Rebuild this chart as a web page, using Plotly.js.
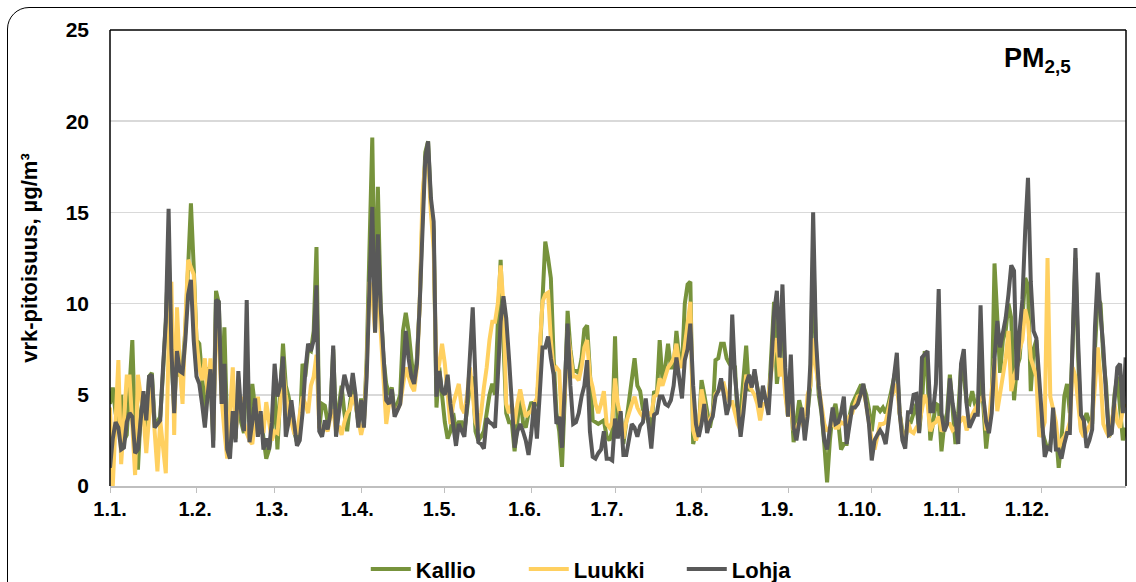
<!DOCTYPE html>
<html>
<head>
<meta charset="utf-8">
<script src="https://cdn.plot.ly/plotly-3.0.1.min.js"></script>
<style>
html,body{margin:0;padding:0;background:#fff;overflow:hidden;width:1136px;height:582px;}
#chart{position:absolute;left:0;top:0;width:1136px;height:582px;}
#frame{position:absolute;left:7px;top:7px;width:1160px;height:600px;border:1.5px solid #000;border-radius:22px;pointer-events:none;}
</style>
</head>
<body>
<div id="chart"></div>
<div id="frame"></div>
<script>
const kallio = [
4.5,5.4,4.0,3.2,5.0,2.5,2.8,5.5,8.0,3.0, 0.9,4.0,5.0,3.0,6.0,6.2,3.5,3.5,3.8,6.2, 9.0,13.0,7.2,4.2,7.5,6.0,6.5,8.5,12.5,15.5, 12.0,8.0,7.8,6.0,3.5,6.5,
6.0,2.5,10.7,10.0,5.0,8.7,3.0,2.0,4.0,2.6, 5.5,3.5,2.9,7.0,3.5,5.6,4.3,3.0,3.8,2.5, 1.5,2.0,3.0,5.5,2.0,5.0,7.8,5.5,4.9,4.0, 3.0,2.4,3.0,6.7,6.0,7.5,
7.4,8.5,13.1,3.2,4.5,4.4,3.5,4.0,7.5,3.2, 4.2,5.5,4.0,3.0,4.5,5.5,4.5,3.5,4.8,3.5, 7.0,13.0,19.1,9.2,16.4,10.0,7.0,5.6,5.0,5.4, 4.0,4.5,5.0,
8.5,9.5,8.5,7.0,5.5,7.0,10.0,15.0,18.3,18.9, 15.5,14.0,4.3,6.5,5.0,3.5,2.6,3.0,4.0,3.0, 3.5,3.5,3.0,4.5,5.5,6.0,3.0,2.5,2.7,3.0, 4.0,5.0,5.6,5.0,9.0,12.4,8.0,4.0,3.5,
3.5,1.9,3.5,5.1,3.5,3.2,4.0,4.6,4.4,4.5, 7.0,10.5,13.4,12.5,11.4,7.0,4.0,3.0,1.05,5.0, 9.6,7.5,6.3,6.3,6.2,7.0,8.6,8.8,6.0,3.6, 3.5,3.4,3.5,3.6,2.7,
2.5,3.0,8.2,3.0,4.0,2.3,3.5,4.5,5.5,7.0, 5.5,5.2,4.2,4.0,3.5,3.2,5.2,5.0,8.0,5.8, 6.5,7.8,6.5,6.5,8.5,7.0,6.5,10.0,11.05,11.2, 2.3,3.0,3.0,5.8,5.0,4.0,
3.2,4.0,6.9,7.0,7.8,7.8,7.0,6.7,6.5,6.5, 3.5,4.0,6.0,7.7,5.2,5.5,6.2,5.5,4.6,5.0, 4.8,4.4,7.5,10.1,5.6,7.0,10.0,5.5,3.8,5.0, 2.4,3.5,4.7,4.0,3.2,
4.0,5.5,13.0,7.5,5.0,4.0,2.3,0.2,2.5,4.0, 4.5,3.5,2.0,2.3,2.3,3.8,4.5,4.8,5.2,5.5, 5.5,5.0,4.2,3.0,4.3,4.3,4.1,4.3,4.0,4.5, 5.2,6.0,6.7,4.0,3.0,2.5,3.5,
3.5,4.0,4.5,3.0,4.5,7.4,6.0,2.5,3.5,4.5, 4.4,1.9,3.4,4.0,6.1,4.0,2.3,4.0,6.5,6.0, 4.6,4.5,5.2,4.5,4.0,6.7,4.0,2.05,3.5,4.4, 12.2,9.0,6.2,8.0,8.5,10.0,
9.2,4.7,6.5,7.0,9.0,11.4,11.0,5.2,7.5,8.0, 5.0,3.0,2.5,2.0,2.3,3.5,3.0,1.0,2.5,4.9, 5.6,4.0,7.8,12.5,7.0,3.0,3.5,4.0,3.5,3.4, 7.5,10.3,10.0,7.0,5.5,2.7,3.0,5.0,6.0,4.0, 2.5,3.2
];
const luukki = [
4.3,0.0,3.5,6.9,1.2,3.5,6.0,6.0,3.0,0.6, 6.1,5.0,3.8,1.8,4.0,5.7,3.0,0.8,3.6,2.0, 0.7,7.8,11.2,2.8,9.8,6.5,4.5,9.0,12.4,12.0, 11.6,8.0,6.5,5.8,7.0,5.0,
7.0,3.0,9.2,8.0,4.8,3.0,1.5,4.0,6.5,2.9, 4.5,4.9,3.5,2.9,2.5,2.3,3.5,4.9,3.5,2.9, 4.6,3.5,2.5,3.0,2.9,4.5,6.5,5.0,4.0,3.5, 2.9,2.9,4.0,4.9,4.5,4.0,
5.5,6.0,7.2,3.2,3.0,3.3,3.0,3.8,4.2,3.0, 3.3,2.8,3.5,4.0,4.2,5.0,4.5,3.5,2.8,3.5, 6.5,11.2,10.5,8.4,12.1,8.5,5.5,3.4,4.5,4.8, 4.0,4.2,4.5,
5.5,6.5,6.0,5.5,5.2,6.5,10.0,16.0,17.8,18.0, 15.0,13.0,6.0,6.7,7.8,6.7,5.0,3.4,4.5,5.0, 5.6,4.3,4.0,5.0,6.5,5.0,3.5,3.05,4.0,5.4, 6.5,8.0,9.0,9.0,10.0,12.1,10.0,4.5,4.0,
4.5,3.4,4.5,5.3,4.5,3.8,4.0,4.1,4.5,4.8, 7.5,10.1,10.5,10.6,8.0,6.3,6.5,6.3,3.0,5.0, 8.5,7.0,6.0,6.0,5.8,6.5,7.6,8.0,6.0,5.4, 4.5,4.0,4.5,5.2,3.4,
3.2,3.5,5.9,4.5,3.8,2.6,3.5,4.1,4.5,4.9, 4.3,4.0,3.8,3.8,4.0,3.9,4.9,5.0,5.9,5.5, 6.0,6.5,6.7,7.0,7.8,6.7,6.5,7.8,9.0,10.1, 3.05,2.5,3.0,5.3,4.5,3.5,
3.6,4.0,5.05,5.2,5.5,5.6,5.0,4.6,4.6,4.0, 3.4,3.05,4.5,6.1,5.5,5.2,5.0,4.5,3.6,4.5, 4.5,5.0,6.5,7.5,8.1,6.0,7.0,5.0,3.8,4.5, 3.05,3.2,3.5,3.5,3.05,
5.0,5.5,8.1,6.5,5.5,4.5,3.4,3.0,3.2,3.5, 3.2,3.2,3.5,3.4,3.5,3.8,4.0,4.5,4.9,5.0, 5.2,4.5,3.4,2.5,2.0,2.8,3.4,3.4,3.5,4.2, 4.9,5.2,5.6,4.0,2.7,2.5,3.5,
3.0,2.9,3.2,3.4,4.2,5.0,4.5,3.0,3.4,3.5, 3.8,3.0,3.2,3.4,3.4,3.05,3.2,3.4,3.6,3.8, 3.05,3.5,3.9,4.2,4.5,4.8,4.9,3.05,3.5,5.6, 7.0,4.1,5.0,6.0,7.0,8.5,
5.2,6.0,6.5,7.5,8.0,9.7,9.0,7.0,6.5,6.0, 2.7,3.0,3.5,12.5,4.9,4.3,3.5,2.0,2.5,2.7, 3.0,3.5,6.5,6.0,4.5,3.0,2.7,3.0,3.2,3.6, 5.5,7.6,6.0,3.4,3.0,2.7,3.5,4.5,3.5,3.2, 4.3,4.5
];
const lohja = [
1.0,2.6,3.5,3.2,2.0,2.1,3.5,4.0,3.8,1.8, 2.0,3.8,5.2,3.6,6.0,6.1,3.2,3.4,3.6,6.5, 9.0,15.2,7.5,4.0,7.4,6.3,6.2,8.0,10.5,11.3, 8.0,6.0,5.6,4.5,3.2,5.0,
6.4,2.1,10.2,10.1,4.5,6.7,2.0,1.5,4.1,2.4, 6.3,4.0,3.0,10.2,2.4,3.5,4.8,2.7,4.1,2.0, 2.6,2.0,3.5,6.7,4.9,5.5,7.1,2.7,3.5,4.7, 3.5,2.2,2.5,4.0,6.3,7.8,
7.4,8.0,11.0,3.0,2.7,3.6,3.1,4.0,7.7,2.7, 4.0,5.2,6.1,5.5,4.9,6.2,5.0,3.2,4.7,3.2, 6.0,11.0,15.3,8.4,13.8,9.8,6.9,4.7,4.5,5.3, 3.8,4.2,4.5,
6.3,8.5,7.0,6.0,5.6,6.7,10.0,14.0,18.0,18.9, 15.8,14.5,4.9,6.3,5.2,5.0,6.1,4.5,3.2,2.2, 3.4,3.0,2.7,4.5,7.0,9.8,5.8,2.4,2.3,2.05, 3.7,3.5,3.4,3.2,6.0,9.0,10.4,9.2,7.0,
4.9,2.1,3.0,3.4,3.0,2.5,1.7,2.9,4.6,2.6, 5.0,7.6,7.6,8.2,7.0,6.1,3.4,3.8,2.1,5.5, 8.9,5.5,3.4,3.5,4.0,4.9,5.5,6.9,3.0,1.6, 1.5,1.8,2.0,3.0,1.5,
1.5,1.4,3.7,2.6,4.1,1.7,1.7,2.5,3.4,3.2, 2.7,3.3,3.5,4.8,3.4,2.05,3.9,4.0,4.9,4.9, 4.5,4.4,4.7,5.5,7.05,5.8,4.8,6.9,7.5,8.9, 5.5,3.4,2.7,3.4,4.5,2.9,
3.5,3.8,4.9,5.2,5.9,5.0,3.9,4.5,9.4,6.0, 4.1,2.7,4.0,5.6,6.1,5.4,6.4,5.5,4.3,5.5, 4.8,3.9,6.5,9.5,10.7,7.05,11.05,6.5,3.8,7.2, 3.2,2.5,3.5,4.3,2.5,
3.8,6.7,15.0,8.1,5.5,4.1,2.5,2.0,3.0,4.3, 3.4,3.5,4.0,4.9,2.3,3.4,4.3,4.3,4.5,5.0, 5.6,4.5,3.4,1.4,2.5,2.8,3.05,2.8,2.3,3.5, 4.9,6.0,7.3,4.0,2.5,2.05,4.05,
4.05,5.0,5.05,2.9,7.05,7.2,7.4,4.1,4.1,5.6, 10.8,4.0,3.0,3.4,5.9,4.5,3.6,2.3,6.7,7.5, 4.5,3.2,3.5,3.9,3.9,9.9,4.9,3.5,2.9,4.0, 7.0,9.05,7.6,8.5,9.2,10.5,
12.1,11.8,5.8,8.5,10.2,14.0,16.9,11.2,8.5,8.1, 5.8,3.5,1.6,2.1,2.0,4.3,2.0,2.0,1.5,2.3, 2.9,2.9,7.8,13.05,7.8,3.9,3.6,2.1,2.5,3.1, 8.7,11.7,9.4,7.6,5.0,2.8,2.9,5.0,6.5,6.7, 4.0,7.05
];
const seriesNames = ['Kallio','Luukki','Lohja'];
const monthStarts = ['2019-01-01','2019-02-01','2019-03-01','2019-04-01','2019-05-01','2019-06-01','2019-07-01','2019-08-01','2019-09-01','2019-10-01','2019-11-01','2019-12-01'];
const monthLabels = ['1.1.','1.2.','1.3.','1.4.','1.5.','1.6.','1.7.','1.8.','1.9.','1.10.','1.11.','1.12.'];
const yTicks = [0,5,10,15,20,25];

function dayDates(n){
  const out=[];
  for(let i=0;i<n;i++){out.push(new Date(Date.UTC(2019,0,1+i)).toISOString().slice(0,10));}
  return out;
}
const dates = dayDates(lohja.length);
const FONT = 'Arial, "Liberation Sans", sans-serif';
const colors = ['#77933C','#FFD060','#595959'];
const vals = [kallio, luukki, lohja];

const traces = vals.map((v,i)=>({
  x: dates, y: v, type:'scatter', mode:'lines', name: seriesNames[i],
  line:{color:colors[i], width:4, shape:'linear'}
}));
// empty helper trace so the label axis is drawn
traces.push({x:[], y:[], xaxis:'x2', yaxis:'y', type:'scatter', mode:'lines', showlegend:false, hoverinfo:'skip'});

const tickFont = {family:FONT, size:20, color:'#000', weight:'bold'};
const layout = {
  width:1136, height:582,
  margin:{l:110, r:10, t:30, b:96},
  paper_bgcolor:'rgba(0,0,0,0)', plot_bgcolor:'#fff',
  showlegend:true,
  legend:{orientation:'h', xref:'container', yref:'container', x:0.322, xanchor:'left', y:0.022, yanchor:'middle',
    font:{family:FONT, size:22, color:'#000', weight:'bold'}, entrywidth:103, itemwidth:40},
  xaxis:{type:'date', range:['2019-01-01','2019-12-31 03:00'],
    tickvals:monthStarts, tickmode:'array', showticklabels:false,
    ticks:'outside', ticklen:5, tickcolor:'#bfbfbf', tickwidth:1,
    showline:true, linecolor:'#bfbfbf', linewidth:1.5,
    showgrid:false, zeroline:false},
  xaxis2:{type:'date', overlaying:'x', anchor:'y', side:'bottom',
    range:['2019-01-01','2020-01-06 01:30'],
    tickvals:monthStarts, ticktext:monthLabels, tickmode:'array',
    ticks:'outside', ticklen:5, tickcolor:'rgba(0,0,0,0)',
    showline:false, showgrid:false, zeroline:false, ticklabelstandoff:0,
    tickfont:tickFont},
  yaxis:{range:[0,25], tickvals:yTicks, tickmode:'array',
    showgrid:true, gridcolor:'#d9d9d9', gridwidth:1.5, zeroline:false,
    showline:false, ticks:'', ticklabelstandoff:20,
    tickfont:{family:FONT, size:21, color:'#000', weight:'bold'},
    title:{text:'vrk-pitoisuus, µg/m³', standoff:21, font:{family:FONT, size:22, color:'#000', weight:'bold'}}},
  shapes:[
    {type:'line', xref:'paper', yref:'paper', x0:0, x1:0, y0:0, y1:1, line:{color:'#000', width:1.5}},
    {type:'line', xref:'paper', yref:'paper', x0:0, x1:1, y0:1, y1:1, line:{color:'#000', width:1.5}},
    {type:'line', xref:'paper', yref:'paper', x0:1, x1:1, y0:0, y1:1, line:{color:'#000', width:1.5}}
  ],
  annotations:[
    {xref:'paper', yref:'paper', x:0.913, y:0.935, xanchor:'center', yanchor:'middle', showarrow:false,
     text:'PM<sub>2,5</sub>', font:{family:FONT, size:27, color:'#000', weight:'bold'}}
  ]
};
Plotly.newPlot('chart', traces, layout, {displayModeBar:false, staticPlot:true});
</script>
</body>
</html>
